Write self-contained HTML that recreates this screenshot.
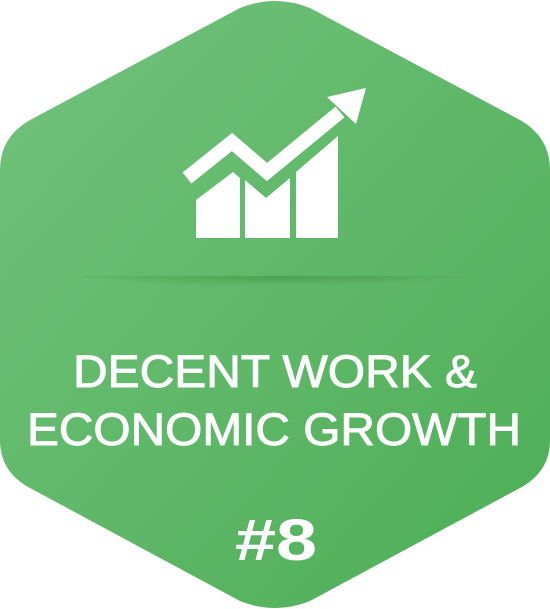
<!DOCTYPE html>
<html><head><meta charset="utf-8"><style>
html,body{margin:0;padding:0;background:#fff;width:550px;height:609px;overflow:hidden}
</style></head><body>
<svg width="550" height="609" viewBox="0 0 550 609">
<defs>
<linearGradient id="g" x1="0" y1="0" x2="1" y2="1">
<stop offset="0" stop-color="#72c27c"/><stop offset="1" stop-color="#4cae55"/>
</linearGradient>
<radialGradient id="sh" cx="0.5" cy="0" r="0.5" fx="0.5" fy="0">
<stop offset="0" stop-color="#3f8f3c" stop-opacity="0.6"/><stop offset="1" stop-color="#3f8f3c" stop-opacity="0"/>
</radialGradient>
</defs>
<path d="M240,8 Q275,-6 310,8 L520,120 Q550,137 550,170 L550,440 Q550,472 520,488 L310,601 Q275,615 240,601 L30,488 Q0,472 0,440 L0,170 Q0,137 30,120 Z" fill="url(#g)"/>
<g fill="#fff">
<path d="M196,200 L233,172 L240,178 L240,238 L196,238 Z"/>
<path d="M245,180 L266,198 L290,178 L290,238 L245,238 Z"/>
<path d="M296,172 L338,136 L338,238 L296,238 Z"/>
<polyline points="187,178 232,142 267,172 340,112" fill="none" stroke="#fff" stroke-width="14" stroke-linejoin="miter"/>
<path d="M366,88 L327,97 L356,124 Z"/>
</g>
<rect x="80" y="276" width="390" height="20" fill="url(#sh)"/>
<line x1="85" y1="277" x2="465" y2="277" stroke="#5aa85a" stroke-opacity="0.4" stroke-width="1"/>
<g font-family="'Liberation Sans', sans-serif" fill="#fff" text-anchor="middle">
<text x="275" y="387" font-size="45" stroke="#fff" stroke-width="0.9" textLength="404" lengthAdjust="spacingAndGlyphs">DECENT WORK &amp;</text>
<text x="274" y="445" font-size="45" stroke="#fff" stroke-width="0.9" textLength="494" lengthAdjust="spacingAndGlyphs">ECONOMIC GROWTH</text>
<text x="276" y="560" font-size="58" font-weight="bold" textLength="82" lengthAdjust="spacingAndGlyphs">#8</text>
</g>
</svg>
</body></html>
